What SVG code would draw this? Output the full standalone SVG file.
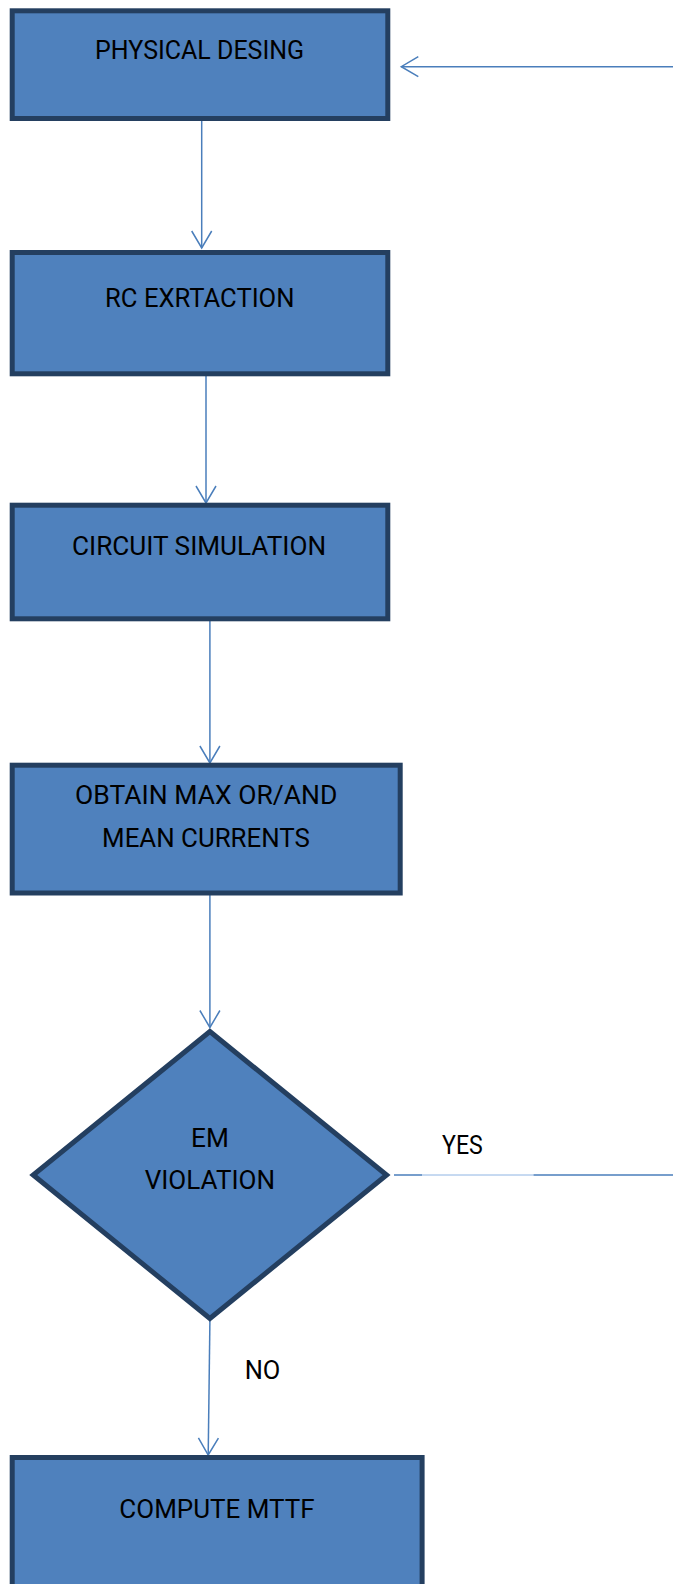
<svg xmlns="http://www.w3.org/2000/svg" width="673" height="1584" viewBox="0 0 673 1584">
  <style>
    .box { fill: #4F81BD; stroke: #243F60; stroke-width: 5; }
    .lbl { font-family: Roboto, "Liberation Sans", sans-serif; font-size: 26px; fill: #000; text-anchor: middle; }
    .edge { fill: none; stroke: #4A7EBB; stroke-width: 1.5; }
    .edge-thin { fill: none; stroke: #8EB4E3; stroke-width: 1; }
  </style>
  <defs>
    <marker id="open-arrow" viewBox="0 0 20 24" refX="18" refY="12" markerWidth="20" markerHeight="24" markerUnits="userSpaceOnUse" orient="auto">
      <path d="M1,2 L18,12 L1,22" fill="none" stroke="#4A7EBB" stroke-width="1.5"/>
    </marker>
  </defs>
  <rect width="673" height="1584" fill="#ffffff"/>

  <!-- connectors -->
  <g id="connectors">
    <line class="edge" x1="201.7" y1="121" x2="201.7" y2="248" marker-end="url(#open-arrow)"/>
    <line class="edge" x1="206" y1="376" x2="206" y2="503" marker-end="url(#open-arrow)"/>
    <line class="edge" x1="209.9" y1="621" x2="209.9" y2="763" marker-end="url(#open-arrow)"/>
    <line class="edge" x1="209.9" y1="895" x2="209.9" y2="1027.5" marker-end="url(#open-arrow)"/>
    <!-- NO branch -->
    <line class="edge" x1="209.9" y1="1321" x2="208.2" y2="1455" marker-end="url(#open-arrow)"/>
    <!-- YES branch back to the top -->
    <line class="edge" x1="394" y1="1175" x2="422" y2="1175"/>
    <line class="edge-thin" x1="422" y1="1175" x2="533.5" y2="1175"/>
    <line class="edge" x1="533.5" y1="1175" x2="673" y2="1175"/>
    <line class="edge" x1="673" y1="66.7" x2="401.3" y2="66.7" marker-end="url(#open-arrow)"/>
    <text class="lbl" x="462.4" y="1154.3" textLength="40.8" lengthAdjust="spacingAndGlyphs">YES</text>
    <text class="lbl" x="262.5" y="1379.3" textLength="35.7" lengthAdjust="spacingAndGlyphs">NO</text>
  </g>

  <g id="physical-design">
    <rect class="box" x="12.2" y="10.8" width="375.6" height="107.7"/>
    <text class="lbl" x="199.6" y="59.3" textLength="209" lengthAdjust="spacingAndGlyphs">PHYSICAL DESING</text>
  </g>

  <g id="rc-extraction">
    <rect class="box" x="12.2" y="252.5" width="375.6" height="121.3"/>
    <text class="lbl" x="199.8" y="306.7" textLength="189.4" lengthAdjust="spacingAndGlyphs">RC EXRTACTION</text>
  </g>

  <g id="circuit-simulation">
    <rect class="box" x="12.2" y="505.2" width="375.6" height="113.6"/>
    <text class="lbl" x="199.1" y="555" textLength="254.1" lengthAdjust="spacingAndGlyphs">CIRCUIT SIMULATION</text>
  </g>

  <g id="obtain-currents">
    <rect class="box" x="12.2" y="765.2" width="388" height="127.8"/>
    <text class="lbl" x="206.2" y="804.3" textLength="262.2" lengthAdjust="spacingAndGlyphs">OBTAIN MAX OR/AND</text>
    <text class="lbl" x="206" y="846.7" textLength="207.8" lengthAdjust="spacingAndGlyphs">MEAN CURRENTS</text>
  </g>

  <g id="em-violation">
    <polygon class="box" points="209.9,1031.5 386.6,1175 209.9,1318.5 33.2,1175"/>
    <text class="lbl" x="209.9" y="1147.3" textLength="37.8" lengthAdjust="spacingAndGlyphs">EM</text>
    <text class="lbl" x="209.9" y="1189.3" textLength="130.5" lengthAdjust="spacingAndGlyphs">VIOLATION</text>
  </g>

  <g id="compute-mttf">
    <rect class="box" x="12.2" y="1457.5" width="409.9" height="200"/>
    <text class="lbl" x="217" y="1517.7" textLength="195.3" lengthAdjust="spacingAndGlyphs">COMPUTE MTTF</text>
  </g>
</svg>
